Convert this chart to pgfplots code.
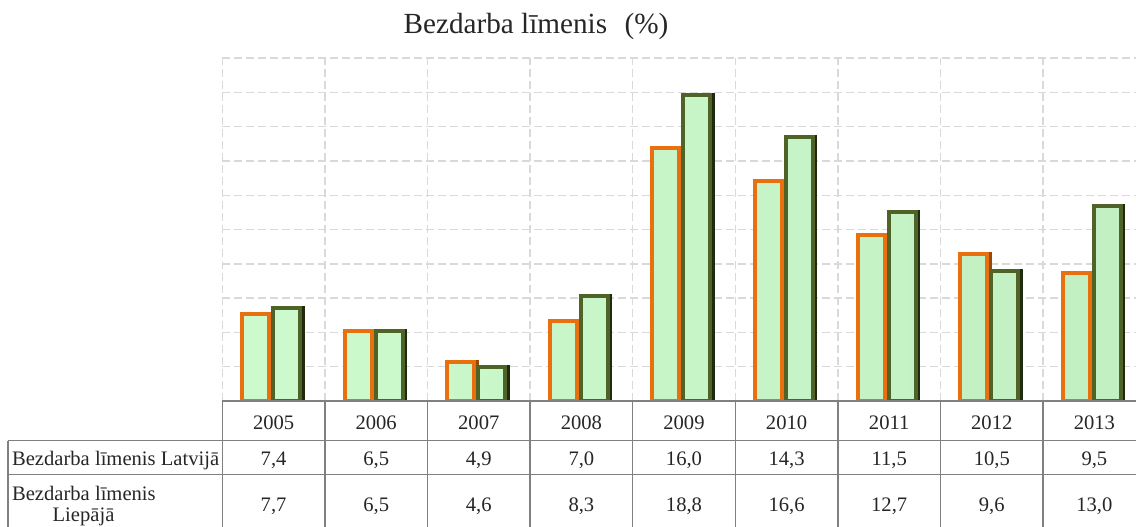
\documentclass[border=0pt]{standalone}
\usepackage{pgfplots}
\pgfplotsset{compat=1.18}
\usepackage{fontspec}
\setmainfont{Liberation Serif}
\definecolor{gridc}{HTML}{D9D9D9}
\definecolor{tabc}{HTML}{808080}
\definecolor{latv}{HTML}{E8700E}
\definecolor{latvd}{HTML}{9A4A08}
\definecolor{liep}{HTML}{4F6228}
\definecolor{liepd}{HTML}{1F2A0F}
\definecolor{fillL}{HTML}{CDFACD}
\definecolor{fillM}{HTML}{DEFFDE}
\definecolor{fillR}{HTML}{C2F0C2}
\definecolor{txt}{HTML}{262626}
\begin{document}
\begin{tikzpicture}
\useasboundingbox (0pt,0pt) rectangle (568pt,-263pt);
\begin{scope}
\clip (0pt,0pt) rectangle (568pt,-263pt);
\begin{axis}[
  at={(111.15pt,-200.5pt)}, anchor=south west,
  scale only axis, width=461.7pt, height=171.5pt,
  xmin=-0.5, xmax=8.5, ymin=2.85, ymax=20.70,
  axis line style={draw=none},
  xtick={0,1,2,3,4,5,6,7,8},
  xticklabels={2005,2006,2007,2008,2009,2010,2011,2012,2013},
  minor xtick={-0.5,0.5,1.5,2.5,3.5,4.5,5.5,6.5,7.5,8.5},
  ytick={2.85,4.635,6.42,8.205,9.99,11.775,13.56,15.345,17.13,18.915,20.70},
  yticklabels={},
  xminorgrids, ymajorgrids,
  major tick length=0pt, minor tick length=0pt,
  grid style={gridc, dash pattern=on 4pt off 2pt, line width=0.7pt},
  minor grid style={gridc, dash pattern=on 4pt off 2pt, line width=0.7pt},
  xticklabel style={anchor=base, yshift=-14.15pt, font=\fontsize{10.3}{12}\selectfont, text=txt},
  ybar=0pt, bar width=13.5pt,
]
\addplot[fill=latvd, draw=latvd, line width=2pt, bar shift=-7.8pt, forget plot]
  coordinates {(0,7.4)(1,6.5)(2,4.9)(3,7.0)(4,16.0)(5,14.3)(6,11.5)(7,10.5)(8,9.5)};
\addplot[left color=fillL, middle color=fillM, right color=fillR, draw=latv, line width=2pt, bar shift=-9pt]
  coordinates {(0,7.4)(1,6.5)(2,4.9)(3,7.0)(4,16.0)(5,14.3)(6,11.5)(7,10.5)(8,9.5)};
\addplot[fill=liepd, draw=liepd, line width=2pt, bar shift=7.7pt, forget plot]
  coordinates {(0,7.7)(1,6.5)(2,4.6)(3,8.3)(4,18.8)(5,16.6)(6,12.7)(7,9.6)(8,13.0)};
\addplot[left color=fillL, middle color=fillM, right color=fillR, draw=liep, line width=2pt, bar shift=6.5pt]
  coordinates {(0,7.7)(1,6.5)(2,4.6)(3,8.3)(4,18.8)(5,16.6)(6,12.7)(7,9.6)(8,13.0)};
\end{axis}
\begin{scope}[x=0.5pt,y=-0.5pt]
  \node[txt, font=\fontsize{14.6}{17}\selectfont, anchor=base] at (536,33) {Bezdarba līmenis\hspace{0.35em} (\%)};
  \draw[tabc, line width=0.75pt] (222.3,401) -- (1140,401);
  \draw[tabc, line width=0.75pt] (8,440.7) -- (1140,440.7);
  \draw[tabc, line width=0.75pt] (8,474.3) -- (1140,474.3);
  \draw[tabc, line width=0.75pt] (8,440.7) -- (8,530);
  \foreach \k in {0,...,9} { \draw[tabc, line width=0.75pt] ({222.3+102.6*\k},401) -- ({222.3+102.6*\k},530); }
  \begin{scope}[every node/.style={txt, font=\fontsize{10.3}{12}\selectfont, inner sep=0pt}]
  \node[anchor=base west] at (11.7,465) {Bezdarba līmenis Latvijā};
  \node[anchor=base west] at (11.7,500) {Bezdarba līmenis};
  \node[anchor=base] at (83.5,521.5) {Liepājā};
  \node[anchor=base] at (273.6,465) {7,4};
  \node[anchor=base] at (376.2,465) {6,5};
  \node[anchor=base] at (478.8,465) {4,9};
  \node[anchor=base] at (581.4,465) {7,0};
  \node[anchor=base] at (684.0,465) {16,0};
  \node[anchor=base] at (786.6,465) {14,3};
  \node[anchor=base] at (889.2,465) {11,5};
  \node[anchor=base] at (991.8,465) {10,5};
  \node[anchor=base] at (1094.4,465) {9,5};
  \node[anchor=base] at (273.6,511.7) {7,7};
  \node[anchor=base] at (376.2,511.7) {6,5};
  \node[anchor=base] at (478.8,511.7) {4,6};
  \node[anchor=base] at (581.4,511.7) {8,3};
  \node[anchor=base] at (684.0,511.7) {18,8};
  \node[anchor=base] at (786.6,511.7) {16,6};
  \node[anchor=base] at (889.2,511.7) {12,7};
  \node[anchor=base] at (991.8,511.7) {9,6};
  \node[anchor=base] at (1094.4,511.7) {13,0};
  \end{scope}
\end{scope}
\end{scope}
\end{tikzpicture}
\end{document}
